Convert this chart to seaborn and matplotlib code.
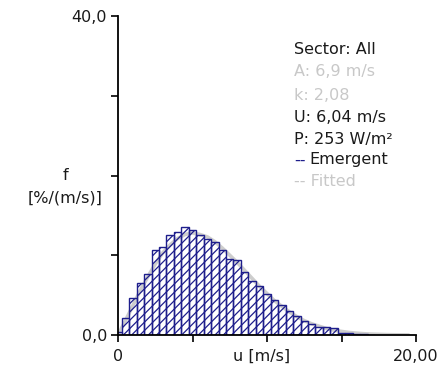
import seaborn as sns
import numpy as np
import matplotlib
matplotlib.use('Agg')
from matplotlib import pyplot as plt

# wind speed bins (m/s), bin width 0.5
speed = [0.0, 0.5, 1.0, 1.5, 2.0, 2.5, 3.0, 3.5, 4.0, 4.5, 5.0, 5.5, 6.0,
         6.5, 7.0, 7.5, 8.0, 8.5, 9.0, 9.5, 10.0, 10.5, 11.0, 11.5, 12.0,
         12.5, 13.0, 13.5, 14.0, 14.5, 15.0, 15.5, 16.0, 16.5, 17.0]
# emergent frequency [%/(m/s)]
emergent = [0.4, 2.1, 4.7, 6.5, 7.7, 10.6, 11.0, 12.6, 12.9, 13.6, 13.2, 12.5, 12.1,
            11.6, 10.6, 9.5, 9.4, 7.9, 6.8, 6.2, 5.2, 4.4, 3.7, 3.0, 2.4,
            1.7, 1.4, 1.0, 1.0, 0.9, 0.3, 0.25, 0.15, 0.1, 0.05]
# fitted curve
fit_speed = speed + [17.5, 18.0, 18.5, 19.0, 19.5]
fitted = [0.0, 1.8, 3.7, 5.6, 7.3, 8.9, 10.3, 11.3, 12.1, 12.6, 12.8, 12.6, 12.3,
          11.7, 10.9, 10.0, 9.1, 8.1, 7.1, 6.1, 5.2, 4.3, 3.6, 2.9, 2.3,
          1.8, 1.4, 1.1, 0.8, 0.6, 0.45, 0.32, 0.23, 0.16, 0.11,
          0.08, 0.05, 0.03, 0.02, 0.01]

info_dark = ['Sector: All', None, None, 'U: 6,04 m/s', 'P: 253 W/m²']
info_light = [None, 'A: 6,9 m/s', 'k: 2,08', None, None]

navy = '#1e1e8c'
light = '#c8c8c8'
txt = '#1a1a1a'
fs = 11.5

sns.set_style('ticks')
plt.rcParams['font.family'] = ['DejaVu Sans']
plt.rcParams['hatch.linewidth'] = 0.9
plt.rcParams['hatch.color'] = navy

fig = plt.figure(figsize=(4.46, 3.68), dpi=100)
W, H = 446, 368
ax = fig.add_axes([118 / W, 1 - 335 / H, (416 - 118) / W, (335 - 16) / H])

sns.lineplot(x=fit_speed, y=fitted, ax=ax, color=light, linewidth=2.6, alpha=0.9, zorder=1)
sns.histplot(x=speed, weights=emergent, binwidth=0.5, binrange=(-0.25, 17.25),
             stat='count', ax=ax, facecolor='none', edgecolor=navy,
             linewidth=1.0, hatch='////', alpha=1, zorder=2)

ax.set_xlim(0, 20)
ax.set_ylim(0, 40)
ax.set_xticks([0, 5, 10, 15, 20])
ax.set_xticklabels(['0', '', '', '', '20,00'])
ax.set_yticks([0, 10, 20, 30, 40])
ax.set_yticklabels(['0,0', '', '', '', '40,0'])
ax.set_xlabel('')
ax.set_ylabel('')
ax.tick_params(axis='both', direction='out', length=5, width=1.2, colors='black',
               labelcolor=txt, labelsize=fs)
ax.tick_params(axis='x', pad=5)
ax.tick_params(axis='y', pad=3)
for s in ['left', 'bottom']:
    ax.spines[s].set_linewidth(1.3)
    ax.spines[s].set_color('black')
sns.despine(ax=ax)

# axis titles
fig.text(65 / W, 1 - 176 / H, 'f', ha='center', va='center', fontsize=fs, color=txt)
fig.text(65 / W, 1 - 198 / H, '[%/(m/s)]', ha='center', va='center', fontsize=fs, color=txt)
fig.text(262 / W, 1 - 356 / H, 'u [m/s]', ha='center', va='center', fontsize=fs, color=txt)

# info block
rows = [50, 72, 95, 117, 139, 160, 182]
for i in range(5):
    yy = 1 - rows[i] / H
    if info_dark[i]:
        fig.text(294 / W, yy, info_dark[i], ha='left', va='center', fontsize=fs, color=txt)
    else:
        fig.text(294 / W, yy, info_light[i], ha='left', va='center', fontsize=fs, color=light)
yy = 1 - rows[5] / H
fig.text(294 / W, yy, '--', ha='left', va='center', fontsize=fs, color=navy)
fig.text(309 / W, yy, 'Emergent', ha='left', va='center', fontsize=fs, color=txt)
yy = 1 - rows[6] / H
fig.text(294 / W, yy, '-- Fitted', ha='left', va='center', fontsize=fs, color=light)

fig.savefig('out.png', dpi=100)
